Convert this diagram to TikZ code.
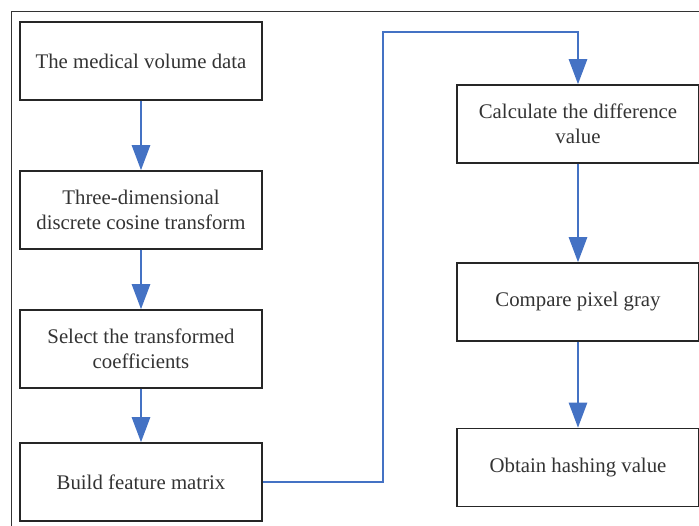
\documentclass[tikz,border=0pt]{standalone}
\usepackage{fontspec}
\setmainfont{Liberation Serif}
\usetikzlibrary{arrows.meta}
\definecolor{flow}{HTML}{4472C4}
\definecolor{txt}{HTML}{333333}
\begin{document}
\begin{tikzpicture}[x=1pt,y=-1pt,
 box/.style={draw=black!85, line width=1.5pt, minimum width=242pt, minimum height=78pt, align=center, font=\fontsize{20.8}{25}\selectfont, text=txt, inner sep=0pt},
 flowline/.style={draw=flow, line width=2.6pt, -{Triangle[length=25pt,width=18pt]}}]
\useasboundingbox (0,0) rectangle (699,526);
\draw[black!80, line width=1pt] (11,526) -- (11,12) -- (699,12);
\node[box] (b1) at (141,61) {The medical volume data};
\node[box] (b2) at (141,210) {Three-dimensional\\discrete cosine transform};
\node[box] (b3) at (141,349) {Select the transformed\\coefficients};
\node[box] (b4) at (141,482) {Build feature matrix};
\node[box] (b5) at (578,124) {Calculate the difference\\value};
\node[box] (b6) at (578,302) {Compare pixel gray};
\node[box] (b7) at (578,467.5) {Obtain hashing value};
\coordinate (c1) at (383,32);
\draw[flowline] (b1) -- (b2);
\draw[flowline] (b2) -- (b3);
\draw[flowline] (b3) -- (b4);
\draw[flowline] (b4.east) -| (c1) -| (b5.north);
\draw[flowline] (b5) -- (b6);
\draw[flowline] (b6) -- (b7);
\end{tikzpicture}
\end{document}
